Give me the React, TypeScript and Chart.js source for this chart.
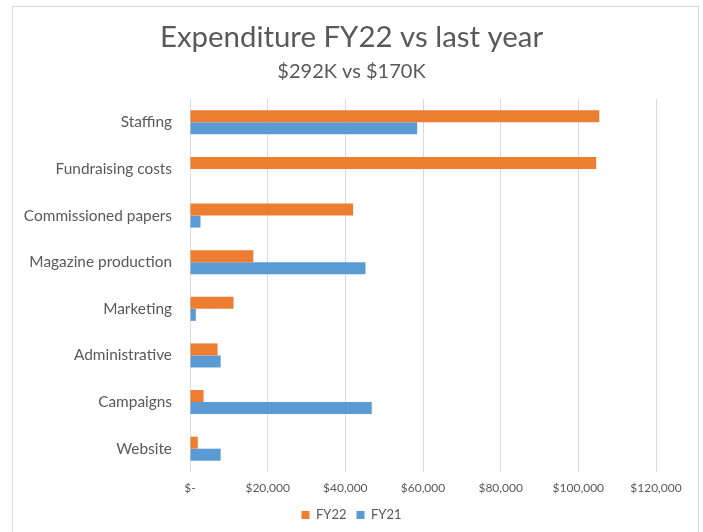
import React, { useEffect, useRef } from 'react';
import { Chart, registerables } from 'chart.js';

Chart.register(...registerables);

const categories = [
  'Staffing',
  'Fundraising costs',
  'Commissioned papers',
  'Magazine production',
  'Marketing',
  'Administrative',
  'Campaigns',
  'Website',
];
const fy22 = [105400, 104600, 42000, 16300, 11200, 7100, 3500, 2000];
const fy21 = [58500, 0, 2700, 45200, 1500, 7900, 46800, 7900];
const seriesNames = ['FY22', 'FY21'];
const xMin = 0;
const xMax = 120000;
const xStep = 20000;
const titleText = 'Expenditure FY22 vs last year';
const subtitleText = '$292K vs $170K';

const FONT = "Lato, 'Open Sans', sans-serif";
const TEXT = '#595959';

const borderPlugin = {
  id: 'outerBorder',
  beforeDraw(chart: any) {
    const ctx = chart.ctx;
    ctx.save();
    ctx.fillStyle = '#ffffff';
    ctx.fillRect(0, 0, chart.width, chart.height);
    ctx.strokeStyle = '#D9D9D9';
    ctx.lineWidth = 1;
    ctx.strokeRect(12.5, 6.5, 686, 560);
    ctx.restore();
  },
};

export default function App() {
  const ref = useRef<HTMLCanvasElement | null>(null);

  useEffect(() => {
    if (!ref.current) return;
    const chart = new Chart(ref.current, {
      type: 'bar',
      data: {
        labels: categories,
        datasets: [
          {
            label: seriesNames[0],
            data: fy22,
            backgroundColor: '#ED7D31',
            categoryPercentage: 0.516,
            barPercentage: 1,
          },
          {
            label: seriesNames[1],
            data: fy21,
            backgroundColor: '#5B9BD5',
            categoryPercentage: 0.516,
            barPercentage: 1,
          },
        ],
      },
      options: {
        indexAxis: 'y',
        responsive: false,
        animation: false,
        layout: { padding: { top: 0, right: 0, bottom: 0.6, left: 0 } },
        scales: {
          x: {
            min: xMin,
            max: xMax,
            ticks: {
              stepSize: xStep,
              padding: 8.8,
              color: TEXT,
              font: { family: FONT, size: 12 },
              callback: (v: any) =>
                Number(v) === 0 ? '$-' : '$' + Number(v).toLocaleString('en-US'),
            },
            grid: { color: '#D9D9D9', drawTicks: false },
            border: { display: false },
            afterFit: (s: any) => {
              s.height = 26.4;
            },
          },
          y: {
            grid: { display: false, drawTicks: false },
            border: { display: false },
            ticks: {
              padding: 18,
              color: TEXT,
              font: { family: FONT, size: 15.4 },
            },
            afterFit: (s: any) => {
              s.width = 190;
            },
          },
          yRight: {
            axis: 'y',
            type: 'category',
            position: 'right',
            labels: categories,
            grid: { display: false, drawTicks: false },
            border: { display: false },
            ticks: { display: false },
            afterFit: (s: any) => {
              s.width = 47;
            },
          },
        },
        plugins: {
          title: {
            display: true,
            text: titleText,
            color: TEXT,
            font: { family: FONT, size: 29.4, weight: 'normal' },
            padding: { top: 19.5, bottom: 3 },
          },
          subtitle: {
            display: true,
            text: subtitleText,
            color: TEXT,
            font: { family: FONT, size: 20, weight: 'normal' },
            padding: { top: 2, bottom: 15.2 },
          },
          legend: {
            position: 'bottom',
            labels: {
              boxWidth: 8,
              boxHeight: 8,
              padding: 10,
              color: TEXT,
              font: { family: FONT, size: 13 },
            },
          },
          tooltip: { enabled: false },
        },
      },
      plugins: [borderPlugin],
    } as any);
    return () => chart.destroy();
  }, []);

  return (
    <div style={{ position: 'fixed', left: 0, top: 0, width: 703, height: 532, background: '#fff' }}>
      <canvas ref={ref} width={703} height={532} style={{ display: 'block' }} />
    </div>
  );
}
